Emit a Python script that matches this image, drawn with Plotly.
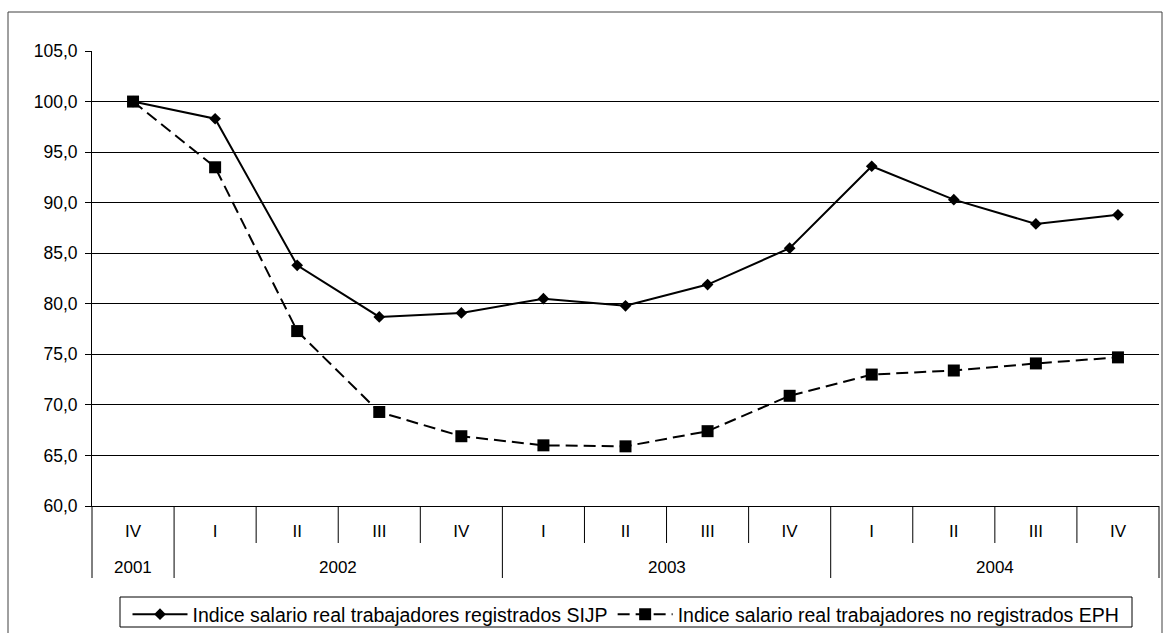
import plotly.graph_objects as go

# Quarterly real-wage index (IV-2001 = 100)
quarters = ["IV", "I", "II", "III", "IV", "I", "II", "III", "IV", "I", "II", "III", "IV"]
years = ["2001", "2002", "2002", "2002", "2002", "2003", "2003", "2003", "2003",
         "2004", "2004", "2004", "2004"]
periods = [f"{q} {y}" for q, y in zip(quarters, years)]

sijp = [100.0, 98.3, 83.8, 78.7, 79.1, 80.5, 79.8, 81.9, 85.5, 93.6, 90.3, 87.9, 88.8]
eph = [100.0, 93.5, 77.3, 69.3, 66.9, 66.0, 65.9, 67.4, 70.9, 73.0, 73.4, 74.1, 74.7]

name_sijp = "Indice salario real trabajadores registrados SIJP"
name_eph = "Indice salario real trabajadores no registrados EPH"

y_ticks = [60, 65, 70, 75, 80, 85, 90, 95, 100, 105]

# Page geometry
W, H = 1171, 633
ML, MR, MT, MB = 92, 12, 51, 127
PW, PH = W - ML - MR, H - MT - MB


def px_x(px):
    return (px - ML) / PW


def px_y(py):
    return (H - MB - py) / PH


FONT = "Liberation Sans, Arial, sans-serif"

fig = go.Figure()
fig.add_trace(go.Scatter(
    x=periods, y=sijp, name=name_sijp, mode="lines+markers",
    line=dict(color="black", width=2),
    marker=dict(symbol="diamond", size=9, color="black"),
))
fig.add_trace(go.Scatter(
    x=periods, y=eph, name=name_eph, mode="lines+markers",
    line=dict(color="black", width=2, dash="12px,6px"),
    marker=dict(symbol="square", size=12, color="black"),
))

shapes = []
# outer chart frame
shapes.append(dict(type="rect", xref="paper", yref="paper",
                   x0=px_x(8), x1=px_x(1162), y0=px_y(645), y1=px_y(12),
                   line=dict(color="#404040", width=1), fillcolor="rgba(0,0,0,0)",
                   layer="below"))
# legend frame
shapes.append(dict(type="rect", xref="paper", yref="paper",
                   x0=px_x(120), x1=px_x(1132), y0=px_y(627), y1=px_y(597),
                   line=dict(color="black", width=1), fillcolor="white",
                   layer="below"))

# category separators: full height between years, short between quarters
n = len(periods)
y_short = px_y(543)
y_long = px_y(578)
for i in range(n + 1):
    if i == 0 or i == n:
        xref, xv = "paper", (0 if i == 0 else 1)
        yb = y_long
    else:
        xref, xv = "x", i - 0.5
        yb = y_long if years[i] != years[i - 1] else y_short
    shapes.append(dict(type="line", xref=xref, yref="paper", x0=xv, x1=xv,
                       y0=0, y1=yb, line=dict(color="black", width=1)))

# year labels centred under their quarters
annotations = []
seen = []
for y in years:
    if y not in seen:
        seen.append(y)
for y in seen:
    idx = [i for i, v in enumerate(years) if v == y]
    annotations.append(dict(x=sum(idx) / len(idx), xref="x", y=px_y(567), yref="paper",
                            text=y, showarrow=False, xanchor="center", yanchor="middle",
                            font=dict(family=FONT, size=17, color="black")))

fig.update_layout(
    width=W, height=H,
    margin=dict(l=ML, r=MR, t=MT, b=MB, autoexpand=False),
    paper_bgcolor="white", plot_bgcolor="white",
    separators=",.",
    font=dict(family=FONT, color="black"),
    showlegend=True,
    legend=dict(orientation="h", x=px_x(626), xanchor="center",
                y=px_y(595), yanchor="top",
                borderwidth=0, bgcolor="rgba(0,0,0,0)",
                font=dict(family=FONT, size=19.5, color="black"),
                itemwidth=55),
    shapes=shapes,
    annotations=annotations,
)

fig.update_xaxes(
    type="category", categoryorder="array", categoryarray=periods,
    range=[-0.5, n - 0.5],
    tickmode="array", tickvals=periods, ticktext=quarters,
    ticks="", showgrid=False, zeroline=False,
    showline=True, linecolor="black", linewidth=1,
    ticklabelstandoff=10,
    tickfont=dict(family=FONT, size=17, color="black"),
)
fig.update_yaxes(
    range=[60, 105], tickmode="array", tickvals=y_ticks, tickformat=".1f",
    showgrid=True, gridcolor="black", gridwidth=1, zeroline=False,
    showline=True, linecolor="black", linewidth=1,
    ticks="outside", ticklen=6, tickcolor="black", tickwidth=1,
    ticklabelstandoff=4,
    tickfont=dict(family=FONT, size=17.5, color="black"),
)

fig.write_html("out.html")
